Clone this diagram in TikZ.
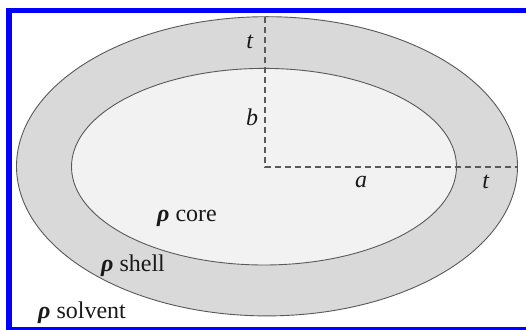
\documentclass[tikz,border=0pt]{standalone}
\usepackage{fontspec}
\setmainfont{Liberation Serif}
\usepackage{tikz}

\begin{document}
\begin{tikzpicture}[
    x=1pt, y=1pt,
    font=\fontsize{24}{27}\selectfont,
    rim/.style={draw=black!65, line width=0.9pt},
    dim/.style={draw=black!65, dash pattern=on 6pt off 4pt, line width=1.4pt},
    lbl/.style={inner sep=0pt, text=black!90},
    ]
\useasboundingbox (0,0) rectangle (526,329);
\clip (0,0) rectangle (526,329);
\fill[white] (0,0) rectangle (526,329);

\draw[rim, fill=black!15] (267,162.7) ellipse [x radius=250.5, y radius=149.6];
\draw[rim, fill=black!5] (264,162.3) ellipse [x radius=192.5, y radius=98.3];

\coordinate (ctr) at (265,162);
\coordinate (top) at (265,312.2);
\coordinate (rt) at (517.5,162);
\draw[dim] (top) |- (rt);

\node[lbl] (t1) at (250,287) {\textit{t}};
\node[lbl] (b) at (252,212) {\textit{b}};
\node[lbl] (a) at (361,147) {\textit{a}};
\node[lbl] (t2) at (486,147) {\textit{t}};
\node[lbl] (core) at (187,111) {\textbf{\textit{ρ}} core};
\node[lbl] (shell) at (133,63) {\textbf{\textit{ρ}} shell};
\node[lbl] (solvent) at (82,16) {\textbf{\textit{ρ}} solvent};

\draw[blue, line width=5.5pt] (9,318.5) rectangle (531,-0.8);
\end{tikzpicture}
\end{document}
